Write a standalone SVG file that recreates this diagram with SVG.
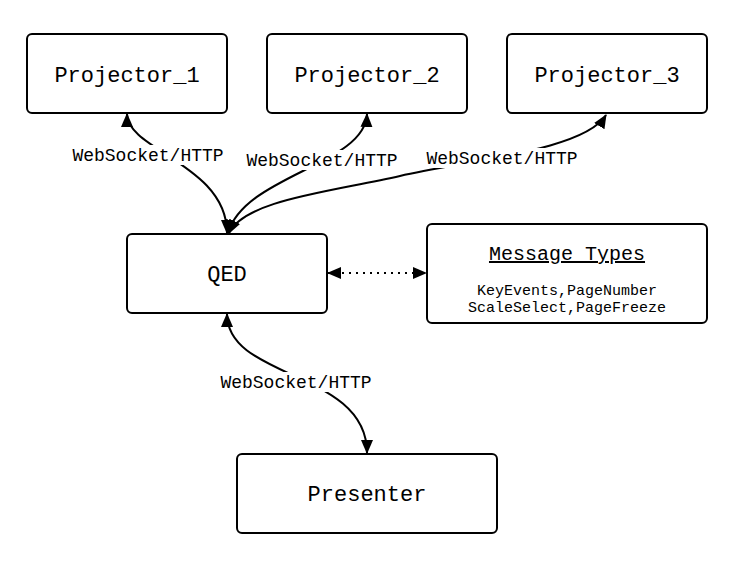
<svg xmlns="http://www.w3.org/2000/svg" width="748" height="562" viewBox="0 0 748 562">
<style>
.box{fill:#fff;stroke:#000;stroke-width:2}
.t{font-family:"Liberation Mono",monospace;fill:#000;text-anchor:middle}
.big{font-size:22px}
.lbl{font-size:18px}
.edge{fill:none;stroke:#000;stroke-width:2}
.bg{fill:#fff}
</style>
<defs>
<marker id="ah" viewBox="0 0 14 12" refX="13" refY="6" markerWidth="14" markerHeight="12" markerUnits="userSpaceOnUse" orient="auto-start-reverse">
<path d="M0,0 L14,6 L0,12 z" fill="#000"/>
</marker>
</defs>
<rect width="748" height="562" fill="#fff"/>
<g id="connectors">
<path class="edge" d="M127,114 C127,150 227,165 227,233" marker-start="url(#ah)" marker-end="url(#ah)"/>
<path class="edge" d="M367,114 C365,165 245,175 228,233" marker-start="url(#ah)" marker-end="url(#ah)"/>
<path class="edge" d="M606,115 C585,150 470,160 400,176 S245,200 229,233" marker-start="url(#ah)" marker-end="url(#ah)"/>
<path class="edge" d="M227,314 C227,380 367,370 367,453" marker-start="url(#ah)" marker-end="url(#ah)"/>
<path class="edge" d="M328,273 L426,273" stroke-dasharray="2 5" marker-start="url(#ah)" marker-end="url(#ah)"/>
<rect class="bg" x="72" y="145" width="154" height="20"/>
<text class="t lbl" x="148" y="161">WebSocket/HTTP</text>
<rect class="bg" x="245" y="150" width="154" height="20"/>
<text class="t lbl" x="322" y="166">WebSocket/HTTP</text>
<rect class="bg" x="425" y="148" width="154" height="20"/>
<text class="t lbl" x="502" y="164">WebSocket/HTTP</text>
<rect class="bg" x="219" y="372" width="154" height="20"/>
<text class="t lbl" x="296" y="388">WebSocket/HTTP</text>
</g>
<g id="projector1">
<rect class="box" x="27" y="34" width="200" height="79" rx="5"/>
<text class="t big" x="127" y="82">Projector_1</text>
</g>
<g id="projector2">
<rect class="box" x="267" y="34" width="200" height="79" rx="5"/>
<text class="t big" x="367" y="82">Projector_2</text>
</g>
<g id="projector3">
<rect class="box" x="507" y="34" width="200" height="79" rx="5"/>
<text class="t big" x="607" y="82">Projector_3</text>
</g>
<g id="qed">
<rect class="box" x="127" y="234" width="200" height="79" rx="5"/>
<text class="t big" x="227" y="281">QED</text>
</g>
<g id="messagetypes">
<rect class="box" x="427" y="224" width="280" height="99" rx="5"/>
<text class="t" x="567" y="260" font-size="20" text-decoration="underline">Message Types</text>
<text class="t" x="567" y="295" font-size="15">KeyEvents,PageNumber</text>
<text class="t" x="567" y="312" font-size="15">ScaleSelect,PageFreeze</text>
</g>
<g id="presenter">
<rect class="box" x="237" y="454" width="260" height="79" rx="5"/>
<text class="t big" x="367" y="501">Presenter</text>
</g>
</svg>
